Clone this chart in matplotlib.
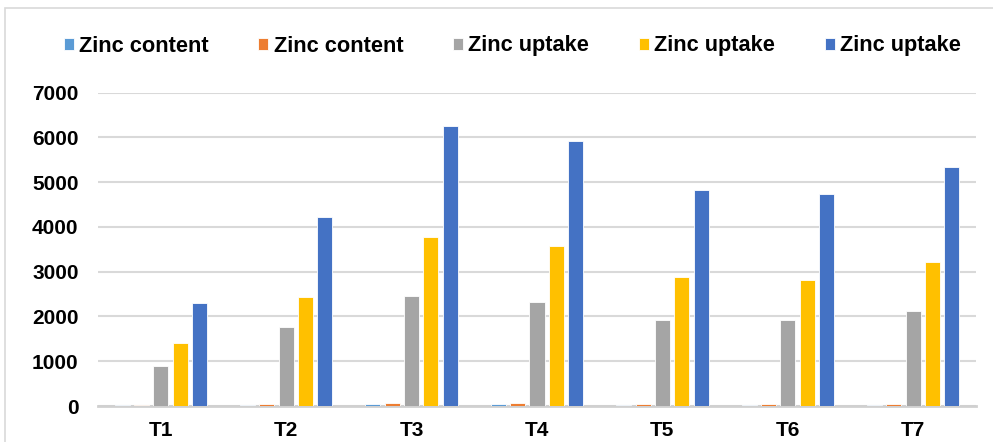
import numpy as np
import matplotlib
matplotlib.use("Agg")
from matplotlib import pyplot as plt
from matplotlib.patches import Rectangle

plt.rcParams["font.family"] = ["Liberation Sans", "DejaVu Sans"]
plt.rcParams["font.weight"] = "bold"

categorias = ["T1", "T2", "T3", "T4", "T5", "T6", "T7"]
etiquetas = ["Zinc content", "Zinc content", "Zinc uptake", "Zinc uptake", "Zinc uptake"]
contenido_1 = [15, 25, 40, 40, 25, 25, 25]
contenido_2 = [15, 35, 60, 60, 35, 35, 35]
absorcion_1 = [885, 1756, 2455, 2314, 1927, 1920, 2120]
absorcion_2 = [1406, 2426, 3772, 3586, 2887, 2820, 3214]
absorcion_3 = [2300, 4219, 6257, 5915, 4829, 4732, 5342]
colores = ["#5B9BD5", "#ED7D31", "#A5A5A5", "#FFC000", "#4472C4"]

series = [contenido_1, contenido_2, absorcion_1, absorcion_2, absorcion_3]

fig = plt.figure(figsize=(9.93, 4.42), dpi=100)
ax = fig.add_axes([98 / 993, 1 - 406 / 442, (976 - 98) / 993, (406 - 92.7) / 442])

x = np.arange(len(categorias))
ancho = 0.12
paso = 0.154
for i, (valores, color, etiqueta) in enumerate(zip(series, colores, etiquetas)):
    ax.bar(x + (i - 2) * paso, valores, width=ancho, color=color, label=etiqueta,
           edgecolor="white", linewidth=0.6, zorder=3)

ax.set_xlim(-0.5, len(categorias) - 0.5)
ax.set_ylim(0, 7000)
ax.set_yticks(range(0, 7001, 1000))
ax.set_xticks(x)
ax.set_xticklabels(categorias)
ax.tick_params(axis="both", length=0, labelsize=15)
ax.tick_params(axis="y", pad=14)
ax.tick_params(axis="x", pad=11)
ax.grid(True, axis="y", color="#d9d9d9", linewidth=1.5, zorder=0)
for lado in ["top", "right", "left"]:
    ax.spines[lado].set_visible(False)
ax.spines["bottom"].set_color("#d0d0d0")
ax.spines["bottom"].set_linewidth(2)

ax.legend(ncol=5, loc="center", bbox_to_anchor=(0.5 + 16 / 993, (442 - 46) / 442),
          bbox_transform=fig.transFigure,
          frameon=False, fontsize=15.7, handlelength=0.46, handleheight=0.46,
          handletextpad=0.23, columnspacing=2.3, borderpad=0)

# marco del grafico
fig.add_artist(Rectangle((4.5 / 993, -0.1), 1.2, 1 - 8 / 442 + 0.1, transform=fig.transFigure,
                         fill=False, edgecolor="#d9d9d9", linewidth=1.2))

fig.savefig("out.png", dpi=100)
